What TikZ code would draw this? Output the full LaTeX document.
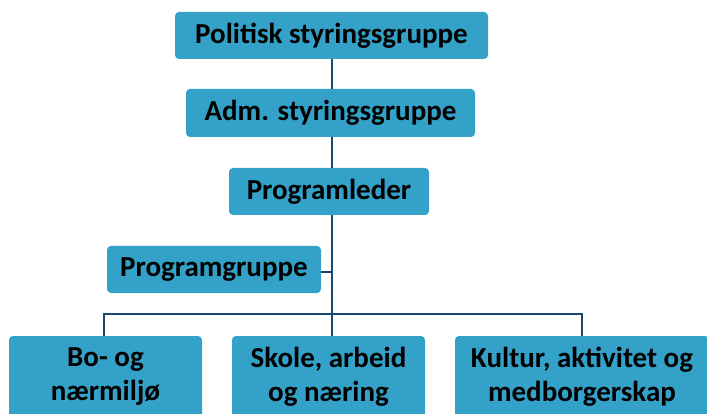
\documentclass[tikz,border=0pt]{standalone}
\usepackage{fontspec}
\setmainfont{Carlito}
\usepackage{tikz}
\definecolor{boksblaa}{RGB}{51,161,200}
\definecolor{linjeblaa}{RGB}{22,72,115}

\begin{document}
\begin{tikzpicture}[x=1pt,y=-1pt,
	boks/.style={rectangle,rounded corners=4pt,fill=boksblaa,draw=none,inner sep=0pt,
		font=\bfseries\fontsize{29}{34}\selectfont,align=center},
	linje/.style={draw=linjeblaa,line width=2pt}]
\useasboundingbox (0,0) rectangle (707,414);
\node [boks,minimum width=313pt,minimum height=47pt] (pol) at (331.5,35.5) {Politisk styringsgruppe};
\node [boks,minimum width=289pt,minimum height=48pt] (adm) at (330.5,113) {Adm. styringsgruppe};
\node [boks,minimum width=200pt,minimum height=47pt] (leder) at (329,191.5) {Programleder};
\node [boks,minimum width=214pt,minimum height=47pt] (gruppe) at (214,269.5) {Programgruppe};
\node [boks,minimum width=193pt,minimum height=82pt] (bo) at (105.5,377) {Bo- og\\nærmiljø};
\node [boks,minimum width=193pt,minimum height=82pt] (skole) at (328.5,377) {Skole, arbeid\\og næring};
\node [boks,minimum width=254pt,minimum height=82pt] (kultur) at (582,377) {Kultur, aktivitet og\\medborgerskap};
% forbindelser
\coordinate (midt) at (332,314);
\coordinate (stub) at (332,272);
\draw [linje] (pol.south -| midt) -- (adm.north -| midt);
\draw [linje] (adm.south -| midt) -- (leder.north -| midt);
\draw [linje] (leder.south -| midt) -- (skole.north -| midt);
\draw [linje] (gruppe.east |- stub) -- (stub);
\draw [linje] (bo.north -| 104,0) |- (midt) -| (kultur.north);
\end{tikzpicture}
\end{document}
